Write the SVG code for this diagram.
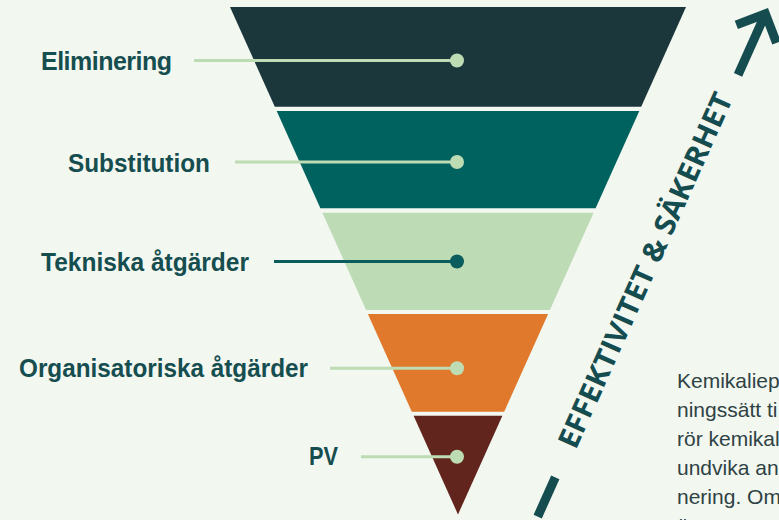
<svg xmlns="http://www.w3.org/2000/svg" width="779" height="520" viewBox="0 0 779 520">
  <style>
    .lbl { font-family: "Liberation Sans", Arial, sans-serif; font-weight: 700; font-size: 25px; fill: #164e50; }
    .conn { stroke: #bddcb4; stroke-width: 3; fill: none; }
    .conn-dark { stroke: #0b5c5c; stroke-width: 3; fill: none; }
    .dot { fill: #bddcb4; }
    .dot-dark { fill: #0b5c5c; }
    .para { font-family: "Liberation Sans", Arial, sans-serif; font-size: 21px; fill: #2e4244; }
    .axis { font-family: "Open Sans", "Noto Sans", sans-serif; font-weight: 700; font-size: 29px; fill: #154c4f; }
    .arrow { stroke: #154c4f; stroke-width: 9; fill: none; stroke-linejoin: miter; stroke-linecap: butt; }
  </style>
  <rect x="0" y="0" width="779" height="520" fill="#f2f7f0"/>

  <g id="funnel">
    <g id="band-eliminering"><polygon points="230,7 686,7 641.2,106.7 274.8,106.7" fill="#1b373c"/></g>
    <g id="band-substitution"><polygon points="276.7,111 639.3,111 595.6,208.3 320.4,208.3" fill="#00625f"/></g>
    <g id="band-tekniska"><polygon points="322.4,212.7 593.6,212.7 549.9,310 366.1,310" fill="#bddbb5"/></g>
    <g id="band-organisatoriska"><polygon points="367.9,314 548.1,314 504.2,411.7 411.8,411.7" fill="#e0792b"/></g>
    <g id="band-pv"><polygon points="413.6,415.7 502.4,415.7 458,514.5" fill="#62251d"/></g>
  </g>

  <g id="connectors">
    <line class="conn" x1="194" y1="60.5" x2="457" y2="60.5"/>
    <line class="conn" x1="235" y1="162" x2="457" y2="162"/>
    <line class="conn-dark" x1="274" y1="261.5" x2="457" y2="261.5"/>
    <line class="conn" x1="330" y1="368.3" x2="457" y2="368.3"/>
    <line class="conn" x1="361" y1="456.7" x2="457" y2="456.7"/>
  </g>

  <g id="node-eliminering">
    <text class="lbl" x="41" y="70" textLength="131" lengthAdjust="spacing">Eliminering</text>
    <circle class="dot" cx="457" cy="60.5" r="7"/>
  </g>
  <g id="node-substitution">
    <text class="lbl" x="68" y="171.5" textLength="142" lengthAdjust="spacingAndGlyphs">Substitution</text>
    <circle class="dot" cx="457" cy="162" r="7"/>
  </g>
  <g id="node-tekniska">
    <text class="lbl" x="41" y="270.5" textLength="208" lengthAdjust="spacingAndGlyphs">Tekniska åtgärder</text>
    <circle class="dot-dark" cx="457" cy="261.5" r="7"/>
  </g>
  <g id="node-organisatoriska">
    <text class="lbl" x="19" y="377" textLength="289" lengthAdjust="spacingAndGlyphs">Organisatoriska åtgärder</text>
    <circle class="dot" cx="457" cy="368.3" r="7"/>
  </g>
  <g id="node-pv">
    <text class="lbl" x="309" y="464.5" textLength="29" lengthAdjust="spacingAndGlyphs">PV</text>
    <circle class="dot" cx="457" cy="456.7" r="7"/>
  </g>

  <g id="axis">
    <line class="arrow" x1="555.3" y1="477.4" x2="537.7" y2="516.6" stroke-width="10"/>
    <text class="axis" transform="translate(575.7,450.6) rotate(-65.9)" x="0" y="0" textLength="386" lengthAdjust="spacingAndGlyphs">EFFEKTIVITET &amp; SÄKERHET</text>
    <g transform="translate(765.4,13.8) rotate(-65.9)">
      <path class="arrow" d="M -67 0 L 0 0"/>
      <path class="arrow" d="M -22 -22 L 0 0 L -22 22"/>
    </g>
  </g>

  <g id="paragraph">
    <text class="para" x="677" y="387.5">Kemikaliep</text>
    <text class="para" x="677" y="416.5">ningssätt ti</text>
    <text class="para" x="677" y="445.5">rör kemikal</text>
    <text class="para" x="677" y="474.5">undvika an</text>
    <text class="para" x="677" y="503.5">nering. Om</text>
    <text class="para" x="677" y="533">ö</text>
  </g>
</svg>
